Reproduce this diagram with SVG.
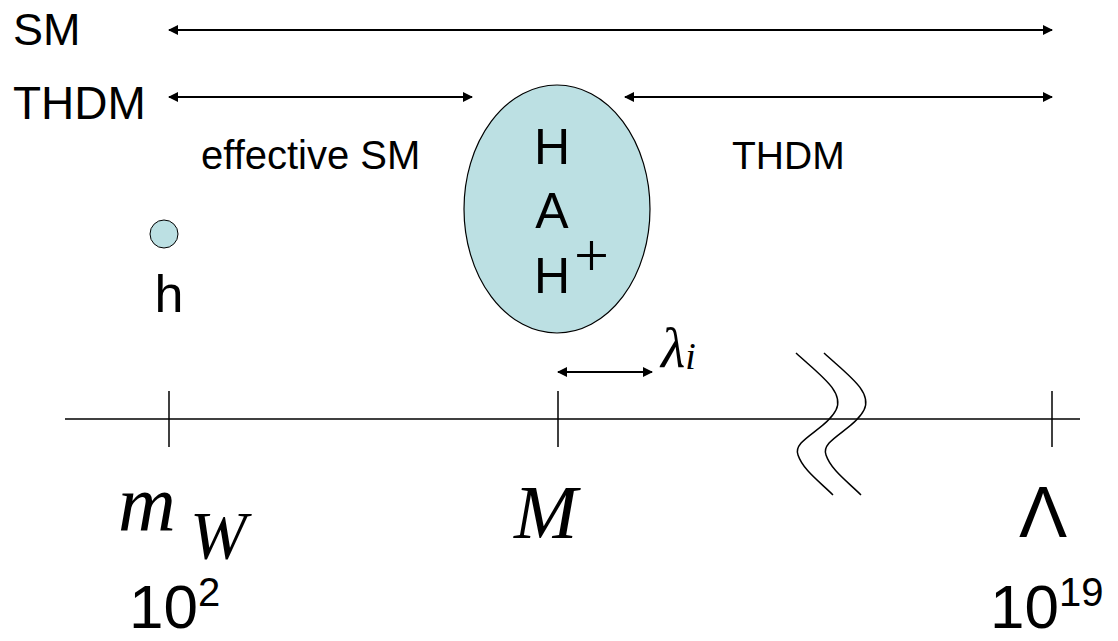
<svg xmlns="http://www.w3.org/2000/svg" width="1118" height="641" viewBox="0 0 1118 641">
<style>
.sans{font-family:"Liberation Sans",Arial,sans-serif;fill:#000}
.serif{font-family:"Liberation Serif","Times New Roman",serif;font-style:italic;fill:#000}
.ln{stroke:#000;stroke-width:1.5;fill:none}
.arr{stroke:#000;stroke-width:2;fill:none;marker-start:url(#ah);marker-end:url(#ah)}
</style>
<defs>
<marker id="ah" viewBox="0 0 10 10" refX="9" refY="5" markerWidth="5" markerHeight="5" orient="auto-start-reverse" markerUnits="strokeWidth">
<path d="M0,0 L10,5 L0,10 z" fill="#000"/>
</marker>
</defs>
<rect width="1118" height="641" fill="#fff"/>
<g id="labels">
<text class="sans" x="13" y="45" font-size="45">SM</text>
<text class="sans" x="13" y="119" font-size="46">THDM</text>
<text class="sans" x="201" y="169" font-size="40">effective SM</text>
<text class="sans" x="732" y="169" font-size="39">THDM</text>
</g>
<g id="connectors">
<line class="arr" x1="169" y1="30" x2="1052" y2="30"/>
<line class="arr" x1="169" y1="97" x2="472" y2="97"/>
<line class="arr" x1="625" y1="97" x2="1052" y2="97"/>
<line class="arr" x1="558" y1="372" x2="652" y2="372"/>
</g>
<g id="node-h">
<circle cx="164" cy="234" r="14" fill="#bce0e3" stroke="#000" stroke-width="1"/>
<text class="sans" x="169" y="312" font-size="52" text-anchor="middle">h</text>
</g>
<g id="node-heavy">
<ellipse cx="557" cy="209" rx="93" ry="124" fill="#bce0e3" stroke="#000" stroke-width="1.2"/>
<text class="sans" x="552" y="164" font-size="50" text-anchor="middle">H</text>
<text class="sans" x="552" y="228" font-size="50" text-anchor="middle">A</text>
<text class="sans" x="552" y="293" font-size="50" text-anchor="middle">H</text>
<text x="574" y="276" font-size="62" font-family="'Liberation Serif','Times New Roman',serif" fill="#000">+</text>
</g>
<g id="axis">
<line class="ln" x1="65" y1="419" x2="1080" y2="419"/>
<line class="ln" x1="169" y1="391" x2="169" y2="447"/>
<line class="ln" x1="558" y1="391" x2="558" y2="447"/>
<line class="ln" x1="1052" y1="391" x2="1052" y2="447"/>
<path class="ln" d="M796,353 C820,375 845,392 836,410 C826,430 792,440 798,455 C803,470 820,482 833,495"/>
<path class="ln" d="M824,353 C848,375 873,392 864,410 C854,430 820,440 826,455 C831,470 848,482 861,495"/>
</g>
<g id="lambda">
<text class="serif" x="661" y="367" font-size="56">λ<tspan font-size="38" dy="2">i</tspan></text>
</g>
<g id="scale-labels">
<text class="serif" x="118" y="530" font-size="80">m</text>
<text class="serif" x="190" y="558" font-size="68">W</text>
<text class="sans" x="129" y="628" font-size="62">10<tspan font-size="40" dy="-22">2</tspan></text>
<text class="serif" x="514" y="538" font-size="76">M</text>
<text class="sans" x="1043" y="537" font-size="72" text-anchor="middle">Λ</text>
<text class="sans" x="990" y="628" font-size="62">10<tspan font-size="40" dy="-22">19</tspan></text>
</g>
</svg>
